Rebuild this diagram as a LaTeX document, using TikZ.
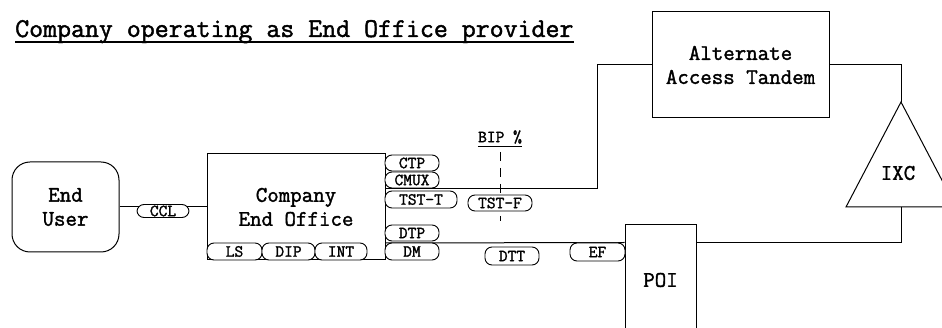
\documentclass[tikz,border=0pt]{standalone}
\usepackage{fontspec}
\setmainfont{Latin Modern Mono}[FakeBold=1.6]
\begin{document}
\begin{tikzpicture}[x=1pt,y=-1pt,
  box/.style={draw,line width=1pt,inner sep=0pt,align=center,font=\fontsize{22.3}{24}\selectfont},
  tag/.style={draw,fill=white,line width=0.9pt,rounded corners=7pt,inner sep=0pt,font=\fontsize{17}{17}\selectfont},
  wire/.style={line width=1pt}]
\clip (0,0) rectangle (942,328);
\fill[white] (0,0) rectangle (942,328);
% title
\node[anchor=base west,inner sep=0pt,font=\fontsize{27.1}{30}\selectfont] (title) at (15,37) {Company operating as End Office provider};
\draw[line width=1.5pt] ([yshift=-5pt]title.base west) -- ([yshift=-5pt]title.base east);
% main boxes
\node[box,rounded corners=18pt,minimum width=107pt,minimum height=90pt] (eu) at (65.5,207) {End\\User};
\node[box,minimum width=178pt,minimum height=106pt] (eo) at (296,207) {Company\\End Office};
\node[box,minimum width=177pt,minimum height=106pt] (aat) at (740.5,65) {Alternate\\Access Tandem};
\node[box,minimum width=71pt,minimum height=110pt] (poi) at (660.5,280) {POI};
% IXC triangle
\coordinate (ixctop) at (901,102);
\coordinate (ixcbl) at (846,207);
\coordinate (ixcbr) at (956,207);
\coordinate (ixcbase) at (901,207);
\draw[line width=1pt,line join=miter] (ixctop) -- (ixcbl) -- (ixcbr) -- cycle;
\node[inner sep=0pt,font=\fontsize{22.3}{24}\selectfont] (ixc) at (898,173) {IXC};
% connectors
\draw[wire] (eu.east) -- (eo.west);
\draw[wire] ([yshift=18pt]eo.east) -| ([xshift=-54pt]aat.west) -- (aat.west);
\draw[wire] (aat.east) -| (ixctop);
\draw[wire] (ixcbase) |- ([yshift=-18pt]poi.north east);
\draw[wire] ([yshift=-36pt]eo.east) -- ([yshift=-18pt]poi.north west);
% BIP dashed
\coordinate (bipT) at (500,152);
\coordinate (bipB) at (500,221);
\draw[wire,dash pattern=on 9pt off 7pt] (bipT) -- (bipB);
\node[inner sep=0pt,font=\fontsize{17}{17}\selectfont] (bip) at (500,137) {BIP \%};
\draw[line width=1pt] ([yshift=-3pt]bip.south west) -- ([yshift=-3pt]bip.south east);
% tags
\node[tag,minimum width=52pt,minimum height=13pt] (ccl) at (163,211) {CCL};
\node[tag,minimum width=55pt,minimum height=17pt] (ls) at (234.5,251.5) {LS};
\node[tag,minimum width=53pt,minimum height=17pt] (dip) at (288.5,251.5) {DIP};
\node[tag,minimum width=52pt,minimum height=17pt] (int) at (341,251.5) {INT};
\node[tag,minimum width=54pt,minimum height=16pt] (ctp) at (412,163) {CTP};
\node[tag,minimum width=54pt,minimum height=16pt] (cmux) at (412,180) {CMUX};
\node[tag,minimum width=72pt,minimum height=17pt] (tstt) at (421,199.5) {TST-T};
\node[tag,minimum width=64pt,minimum height=16pt] (tstf) at (500,203) {TST-F};
\node[tag,minimum width=54pt,minimum height=16pt] (dtp) at (412,233) {DTP};
\node[tag,minimum width=54pt,minimum height=17pt] (dm) at (412,251.5) {DM};
\node[tag,minimum width=54pt,minimum height=18pt] (dtt) at (512,256) {DTT};
\node[tag,minimum width=55pt,minimum height=18pt] (ef) at (597.5,252) {EF};
\end{tikzpicture}
\end{document}
